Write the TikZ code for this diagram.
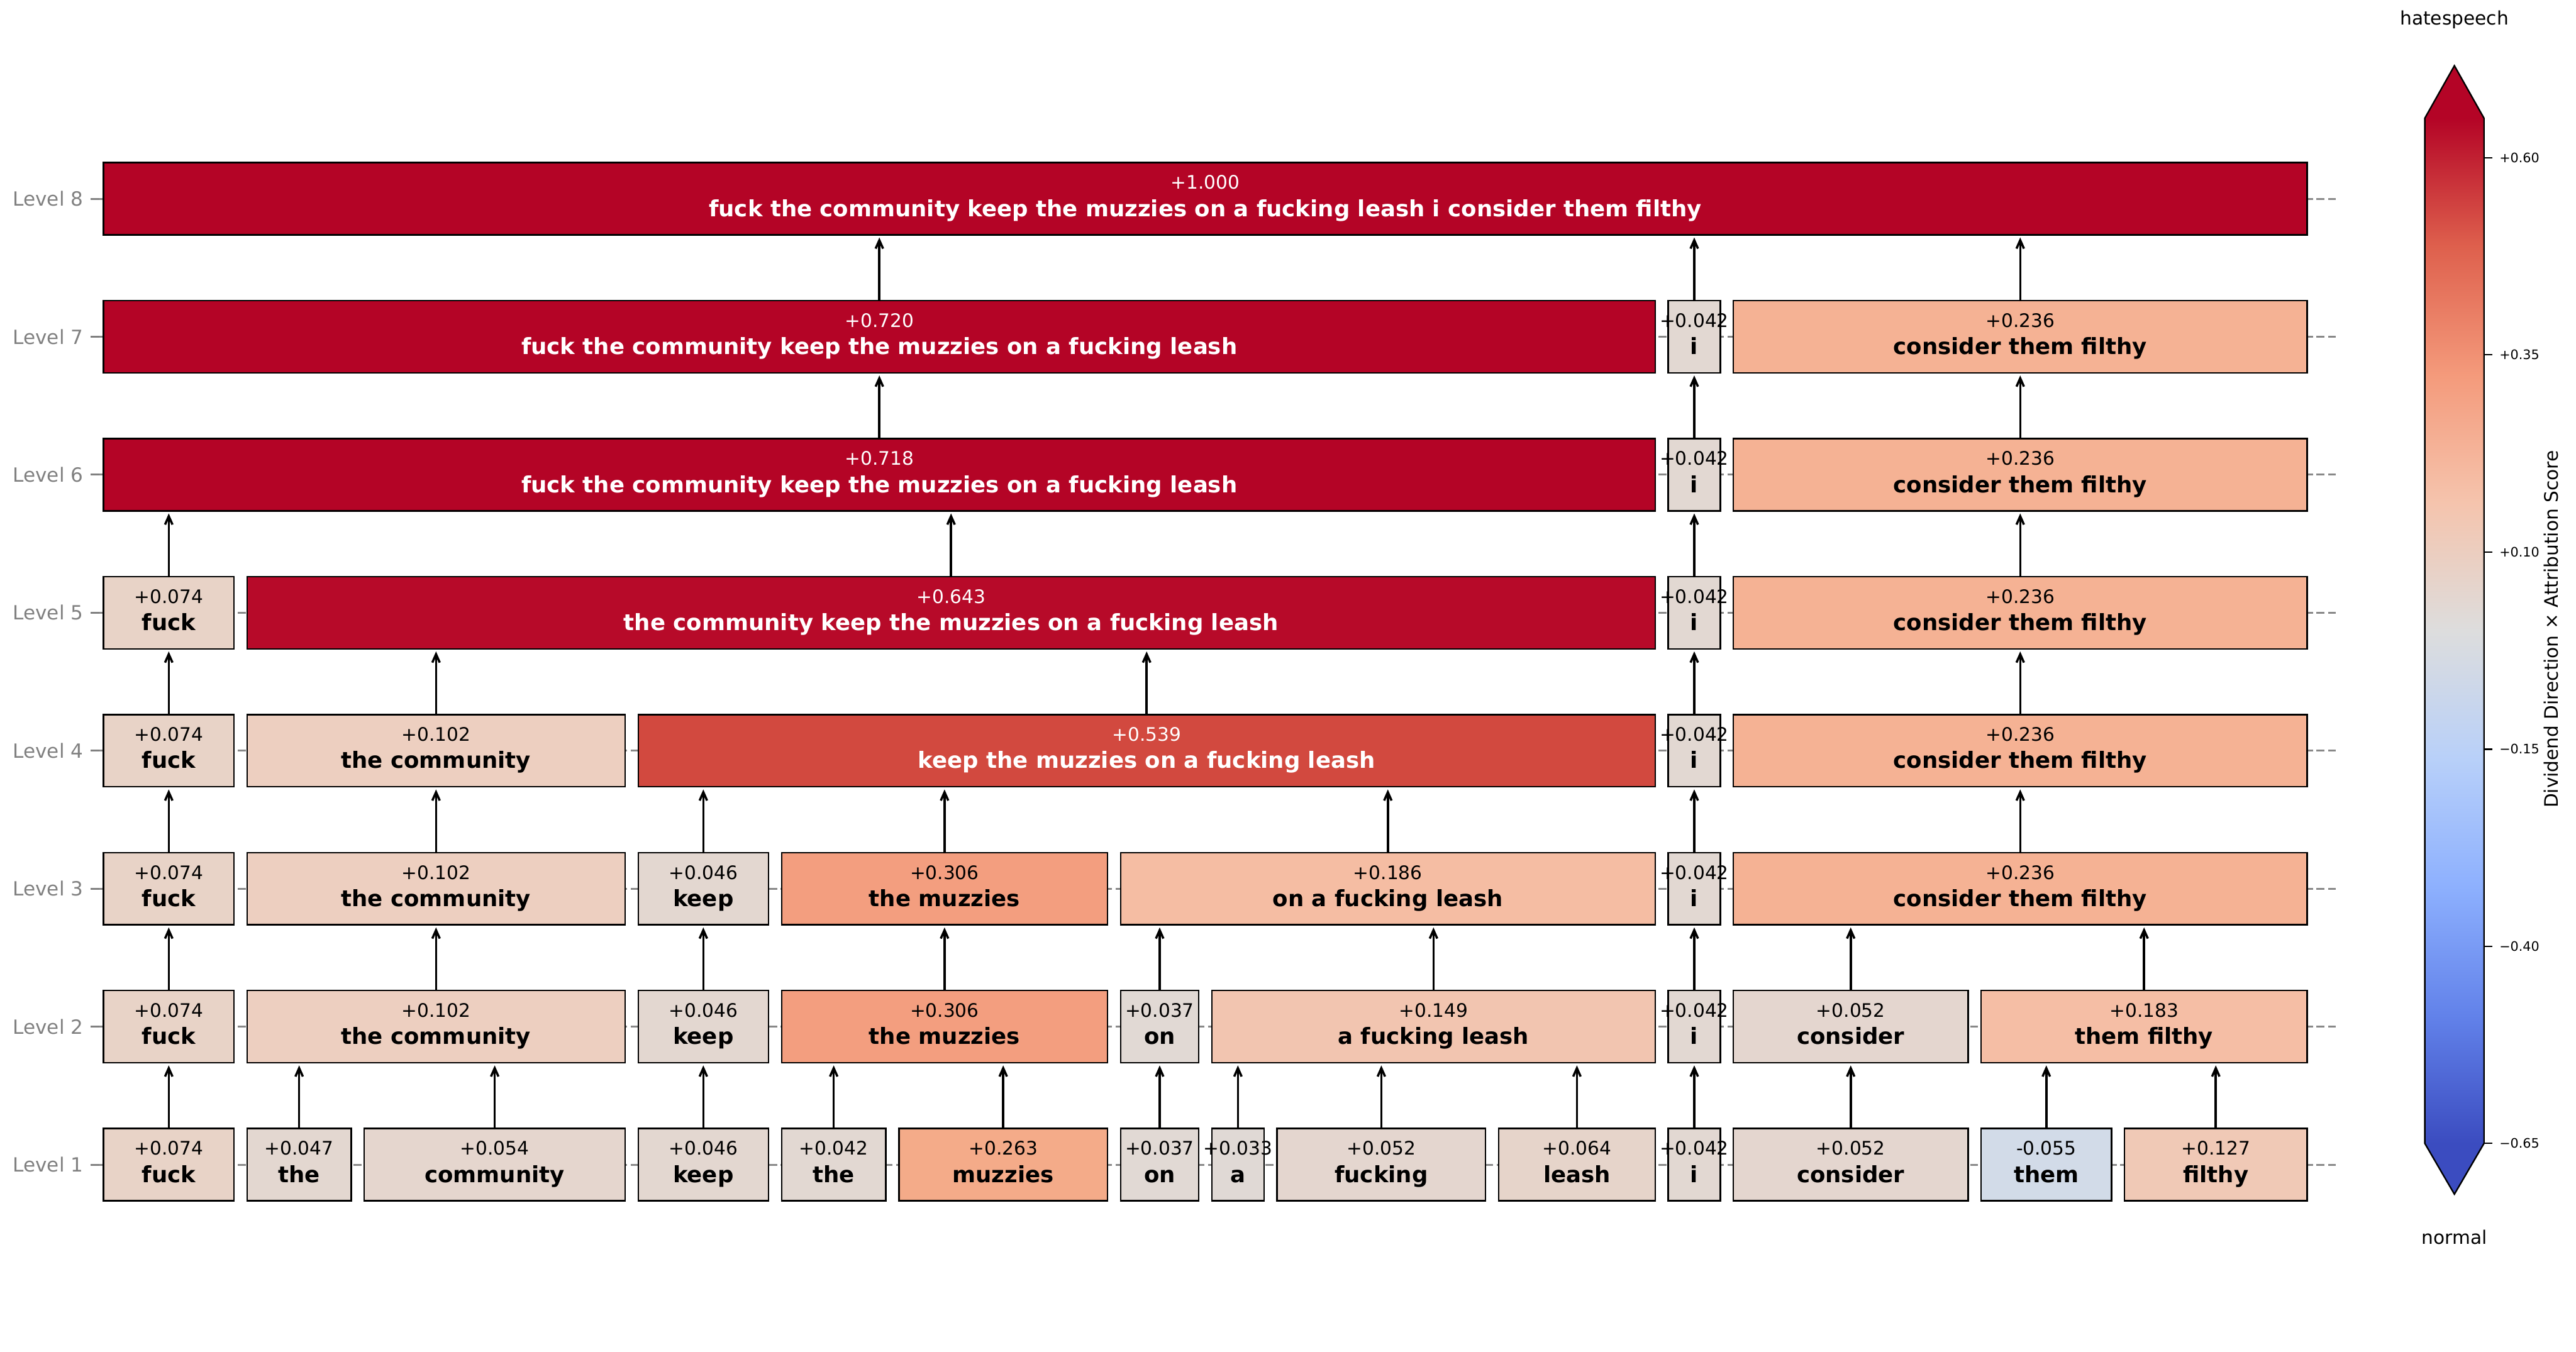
\documentclass[tikz,border=0pt]{standalone}
\usepackage{fontspec}
\setmainfont{DejaVu Sans}
\usepackage{tikz}
\usetikzlibrary{arrows.meta,positioning,calc}

% coolwarm stops for the colour bar
\definecolor{cw0}{RGB}{59,76,192}
\definecolor{cw1}{RGB}{98,130,234}
\definecolor{cw2}{RGB}{141,176,254}
\definecolor{cw3}{RGB}{184,208,249}
\definecolor{cw4}{RGB}{221,221,221}
\definecolor{cw5}{RGB}{245,196,173}
\definecolor{cw6}{RGB}{244,154,123}
\definecolor{cw7}{RGB}{222,96,77}
\definecolor{cw8}{RGB}{180,4,38}
% box fills (score -> coolwarm)
\definecolor{c033}{RGB}{224,217,213}
\definecolor{c037}{RGB}{225,217,212}
\definecolor{c042}{RGB}{226,216,210}
\definecolor{c046}{RGB}{227,215,208}
\definecolor{c047}{RGB}{227,215,208}
\definecolor{c052}{RGB}{228,214,207}
\definecolor{c054}{RGB}{229,214,206}
\definecolor{c064}{RGB}{230,212,202}
\definecolor{c074}{RGB}{232,211,199}
\definecolor{c102}{RGB}{237,207,192}
\definecolor{c127}{RGB}{240,201,182}
\definecolor{c149}{RGB}{242,197,176}
\definecolor{c183}{RGB}{245,190,165}
\definecolor{c186}{RGB}{245,189,163}
\definecolor{c236}{RGB}{245,178,148}
\definecolor{c263}{RGB}{244,171,137}
\definecolor{c306}{RGB}{243,158,127}
\definecolor{c539}{RGB}{210,73,63}
\definecolor{c643}{RGB}{183,10,41}
\definecolor{cmax}{RGB}{180,4,38}
\definecolor{cm055}{RGB}{210,219,232}
\definecolor{gridgray}{RGB}{136,136,136}

\pgfdeclareverticalshading{coolwarmbar}{100bp}{color(0bp)=(cw0); color(25bp)=(cw0);
  color(31.25bp)=(cw1); color(37.5bp)=(cw2); color(43.75bp)=(cw3); color(50bp)=(cw4);
  color(56.25bp)=(cw5); color(62.5bp)=(cw6); color(68.75bp)=(cw7); color(75bp)=(cw8);
  color(100bp)=(cw8)}

\tikzset{
  segbox/.style={draw=black, line width=0.8pt, inner sep=0pt, outer sep=0pt, minimum height=38.8pt},
  valtxt/.style={anchor=base, inner sep=0pt, font=\fontsize{10}{12}\selectfont},
  wordtxt/.style={anchor=base, inner sep=0pt, font=\fontsize{12}{14}\selectfont\bfseries},
  uparrow/.style={-{Straight Barb[length=4.5pt,width=4pt]}, line width=1.2pt, shorten >=1.4pt},
  levlabel/.style={anchor=east, text=gray, inner sep=0pt, font=\fontsize{10.5}{12}\selectfont},
  gridline/.style={draw=gridgray, dash pattern=on 4.3pt off 1.9pt, line width=1pt},
  cbtext/.style={inner sep=0pt, font=\fontsize{10}{12}\selectfont},
}

% name, level, first unit, last unit, fill, score, words, text colour
\newcommand{\segnode}[8]{%
  \node[segbox, fill=#5, minimum width={(#4-#3)*7pt}] (#1) at ({55.6+(#3+#4)*3.5},{100.55+(#2-1)*74.09}) {};
  \node[valtxt, text=#8] (#1v) at ([yshift=5.1pt]#1.center) {#6};
  \node[wordtxt, text=#8] (#1w) at ([yshift=-9.5pt]#1.center) {#7};
}

\begin{document}
\begin{tikzpicture}[x=1pt,y=1pt]
\useasboundingbox (0,0) rectangle (1383,725.9);

% level axis
\foreach \k in {1,...,8}{
  \draw[gridline] (53.3,{100.55+(\k-1)*74.09}) -- (1254,{100.55+(\k-1)*74.09});
  \draw[gray, line width=1pt] (48.7,{100.55+(\k-1)*74.09}) -- (53.3,{100.55+(\k-1)*74.09});
  \node[levlabel] (lev\k) at (44.9,{100.55+(\k-1)*74.09}) {Level \k};
}

% Level 1
\segnode{l1a}{1}{0}{10}{c074}{+0.074}{fuck}{black}
\segnode{l1b}{1}{11}{19}{c047}{+0.047}{the}{black}
\segnode{l1c}{1}{20}{40}{c054}{+0.054}{community}{black}
\segnode{l1d}{1}{41}{51}{c046}{+0.046}{keep}{black}
\segnode{l1e}{1}{52}{60}{c042}{+0.042}{the}{black}
\segnode{l1f}{1}{61}{77}{c263}{+0.263}{muzzies}{black}
\segnode{l1g}{1}{78}{84}{c037}{+0.037}{on}{black}
\segnode{l1h}{1}{85}{89}{c033}{+0.033}{a}{black}
\segnode{l1i}{1}{90}{106}{c052}{+0.052}{fucking}{black}
\segnode{l1j}{1}{107}{119}{c064}{+0.064}{leash}{black}
\segnode{l1k}{1}{120}{124}{c042}{+0.042}{i}{black}
\segnode{l1l}{1}{125}{143}{c052}{+0.052}{consider}{black}
\segnode{l1m}{1}{144}{154}{cm055}{-0.055}{them}{black}
\segnode{l1n}{1}{155}{169}{c127}{+0.127}{filthy}{black}

% Level 2
\segnode{l2a}{2}{0}{10}{c074}{+0.074}{fuck}{black}
\segnode{l2b}{2}{11}{40}{c102}{+0.102}{the community}{black}
\segnode{l2c}{2}{41}{51}{c046}{+0.046}{keep}{black}
\segnode{l2d}{2}{52}{77}{c306}{+0.306}{the muzzies}{black}
\segnode{l2e}{2}{78}{84}{c037}{+0.037}{on}{black}
\segnode{l2f}{2}{85}{119}{c149}{+0.149}{a fucking leash}{black}
\segnode{l2g}{2}{120}{124}{c042}{+0.042}{i}{black}
\segnode{l2h}{2}{125}{143}{c052}{+0.052}{consider}{black}
\segnode{l2i}{2}{144}{169}{c183}{+0.183}{them filthy}{black}

% Level 3
\segnode{l3a}{3}{0}{10}{c074}{+0.074}{fuck}{black}
\segnode{l3b}{3}{11}{40}{c102}{+0.102}{the community}{black}
\segnode{l3c}{3}{41}{51}{c046}{+0.046}{keep}{black}
\segnode{l3d}{3}{52}{77}{c306}{+0.306}{the muzzies}{black}
\segnode{l3e}{3}{78}{119}{c186}{+0.186}{on a fucking leash}{black}
\segnode{l3f}{3}{120}{124}{c042}{+0.042}{i}{black}
\segnode{l3g}{3}{125}{169}{c236}{+0.236}{consider them filthy}{black}

% Level 4
\segnode{l4a}{4}{0}{10}{c074}{+0.074}{fuck}{black}
\segnode{l4b}{4}{11}{40}{c102}{+0.102}{the community}{black}
\segnode{l4c}{4}{41}{119}{c539}{+0.539}{keep the muzzies on a fucking leash}{white}
\segnode{l4d}{4}{120}{124}{c042}{+0.042}{i}{black}
\segnode{l4e}{4}{125}{169}{c236}{+0.236}{consider them filthy}{black}

% Level 5
\segnode{l5a}{5}{0}{10}{c074}{+0.074}{fuck}{black}
\segnode{l5b}{5}{11}{119}{c643}{+0.643}{the community keep the muzzies on a fucking leash}{white}
\segnode{l5c}{5}{120}{124}{c042}{+0.042}{i}{black}
\segnode{l5d}{5}{125}{169}{c236}{+0.236}{consider them filthy}{black}

% Level 6
\segnode{l6a}{6}{0}{119}{cmax}{+0.718}{fuck the community keep the muzzies on a fucking leash}{white}
\segnode{l6b}{6}{120}{124}{c042}{+0.042}{i}{black}
\segnode{l6c}{6}{125}{169}{c236}{+0.236}{consider them filthy}{black}

% Level 7
\segnode{l7a}{7}{0}{119}{cmax}{+0.720}{fuck the community keep the muzzies on a fucking leash}{white}
\segnode{l7b}{7}{120}{124}{c042}{+0.042}{i}{black}
\segnode{l7c}{7}{125}{169}{c236}{+0.236}{consider them filthy}{black}

% Level 8
\segnode{l8a}{8}{0}{169}{cmax}{+1.000}{fuck the community keep the muzzies on a fucking leash i consider them filthy}{white}

% merges
\foreach \c/\p in {l1a/l2a,l1b/l2b,l1c/l2b,l1d/l2c,l1e/l2d,l1f/l2d,l1g/l2e,l1h/l2f,l1i/l2f,l1j/l2f,l1k/l2g,l1l/l2h,l1m/l2i,l1n/l2i,
  l2a/l3a,l2b/l3b,l2c/l3c,l2d/l3d,l2e/l3e,l2f/l3e,l2g/l3f,l2h/l3g,l2i/l3g,
  l3a/l4a,l3b/l4b,l3c/l4c,l3d/l4c,l3e/l4c,l3f/l4d,l3g/l4e,
  l4a/l5a,l4b/l5b,l4c/l5b,l4d/l5c,l4e/l5d,
  l5a/l6a,l5b/l6a,l5c/l6b,l5d/l6c,
  l6a/l7a,l6b/l7b,l6c/l7c,
  l7a/l8a,l7b/l8a,l7c/l8a}
  \draw[uparrow] (\c.north) -- (\c.north |- \p.south);

% colour bar
\coordinate (cbsw) at (1301.8,112.0);
\coordinate (cbne) at (1333.6,662.4);
\coordinate (cbtop) at (1317.7,690.6);
\coordinate (cbbot) at (1317.7,84.7);
\shade[shading=coolwarmbar] (cbsw) rectangle (cbne);
\fill[cw8] (cbsw |- cbne) -- (cbtop) -- (cbne) -- cycle;
\fill[cw0] (cbsw) -- (cbbot) -- (cbne |- cbsw) -- cycle;
\draw[line width=0.8pt, line join=miter] (cbsw) -- (cbsw |- cbne) -- (cbtop) -- (cbne) -- (cbne |- cbsw) -- (cbbot) -- cycle;
\foreach \v/\t [count=\i] in {-0.65/{−0.65},-0.40/{−0.40},-0.15/{−0.15},0.10/{+0.10},0.35/{+0.35},0.60/{+0.60}}
  \draw[line width=0.8pt] (1333.6,{112.0+(\v+0.65)/1.3*550.4}) -- ++(4.4,0)
    node[anchor=west, xshift=3.5pt, inner sep=0pt, font=\fontsize{7}{8}\selectfont] (cbtick\i) {\t};
\node[cbtext] (hatelbl) at (1317.7,715.3) {hatespeech};
\node[cbtext] (normlbl) at (1317.7,61.7) {normal};
\node[cbtext, rotate=90] (cblabel) at (1369.7,388) {Dividend Direction × Attribution Score};
\end{tikzpicture}
\end{document}
